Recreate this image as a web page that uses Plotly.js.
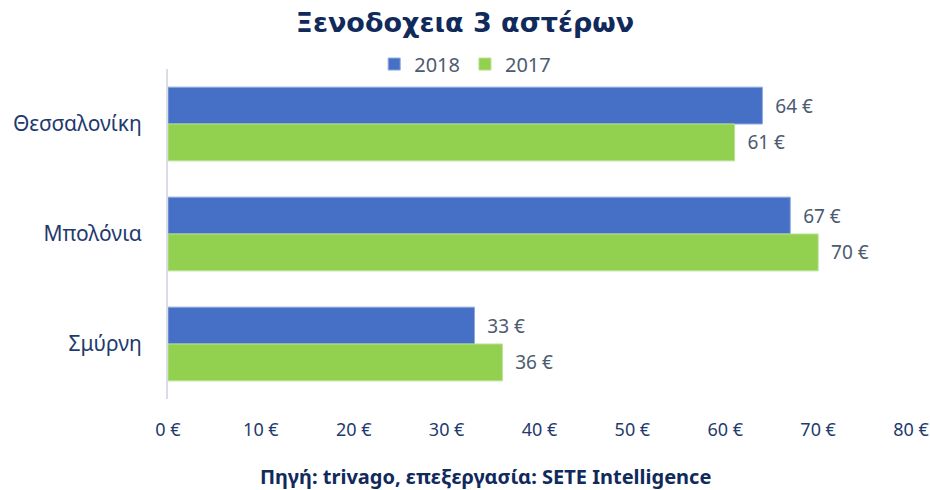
<!DOCTYPE html>
<html>
<head>
<meta charset="utf-8">
<script src="https://cdn.plot.ly/plotly-3.0.1.min.js"></script>
<style>html,body{margin:0;padding:0;background:#fff;}#chart{width:930px;height:490px;}</style>
</head>
<body>
<div id="chart"></div>
<script>
const cities = ["Θεσσαλονίκη", "Μπολόνια", "Σμύρνη"];
const values2018 = [64, 67, 33];
const values2017 = [61, 70, 36];
const xTickVals = [0, 10, 20, 30, 40, 50, 60, 70, 80];
const xTickText = ["0 €", "10 €", "20 €", "30 €", "40 €", "50 €", "60 €", "70 €", "80 €"];

const labelFont = {family: "Noto Sans, Open Sans, sans-serif", size: 19, color: "#4d5b70"};
const pad = "\u00a0\u00a0";

const traces = [
  {
    type: "bar", orientation: "h", name: "2018",
    y: cities, x: values2018,
    marker: {color: "#4670c6", line: {color: "#8fa8de", width: 1}},
    texttemplate: pad + "%{x:.0f} €", textposition: "outside", textfont: labelFont,
    constraintext: "none", cliponaxis: false, hoverinfo: "skip"
  },
  {
    type: "bar", orientation: "h", name: "2017",
    y: cities, x: values2017,
    marker: {color: "#92d050", line: {color: "#b6e08e", width: 1}},
    texttemplate: pad + "%{x:.0f} €", textposition: "outside", textfont: labelFont,
    constraintext: "none", cliponaxis: false, hoverinfo: "skip"
  }
];

const layout = {
  width: 930, height: 490,
  margin: {l: 168, r: 19, t: 69, b: 91, autoexpand: false},
  paper_bgcolor: "#ffffff", plot_bgcolor: "#ffffff",
  title: {
    text: "<b>Ξενοδοχεια 3 αστέρων</b>",
    font: {family: "DejaVu Sans, Verdana, sans-serif", size: 27, color: "#102a5c"},
    x: 0.5, xanchor: "center", y: 0.955, yanchor: "middle"
  },
  showlegend: true,
  legend: {
    orientation: "h", xref: "paper", x: 0.40, xanchor: "center",
    yref: "paper", y: 1.015, yanchor: "middle",
    font: {family: "Noto Sans, Open Sans, sans-serif", size: 20, color: "#4d5b70"},
    itemwidth: 30, traceorder: "normal"
  },
  barmode: "group", bargap: 0.33, bargroupgap: 0,
  xaxis: {
    range: [0, 80], tickvals: xTickVals, ticktext: xTickText,
    showgrid: false, zeroline: false, showline: false,
    ticks: "", ticklabelstandoff: 18, tickangle: 0,
    tickfont: {family: "Noto Sans, Open Sans, sans-serif", size: 18, color: "#1f3a6e"},
    fixedrange: true
  },
  yaxis: {
    type: "category", autorange: "reversed",
    showgrid: false, zeroline: false,
    showline: true, linecolor: "#d9dde6", linewidth: 2,
    ticks: "", ticklabelstandoff: 20,
    tickfont: {family: "Noto Sans, Open Sans, sans-serif", size: 21, color: "#1f3a6e"},
    fixedrange: true
  },
  annotations: [
    {
      text: "<b>Πηγή: trivago, επεξεργασία: SETE Intelligence</b>",
      xref: "paper", yref: "paper", x: 0.427, y: -0.236,
      xanchor: "center", yanchor: "middle", showarrow: false,
      font: {family: "Noto Sans, Open Sans, sans-serif", size: 20, color: "#102a5c"}
    }
  ]
};

Plotly.newPlot("chart", traces, layout, {displayModeBar: false, staticPlot: true});
</script>
</body>
</html>
